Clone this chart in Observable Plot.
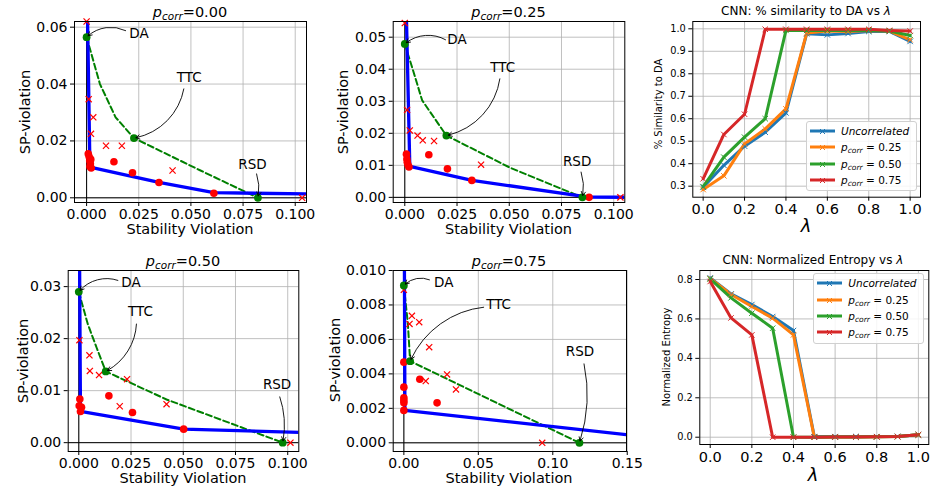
<!DOCTYPE html>
<html><head><meta charset="utf-8">
<script src="https://cdn.jsdelivr.net/npm/d3@7"></script>
<script src="https://cdn.jsdelivr.net/npm/@observablehq/plot@0.6"></script>
<style>
body{margin:0;background:#fff;font-family:"DejaVu Sans",sans-serif;}
#root{position:relative;width:930px;height:489px;overflow:hidden;}
#root svg.plot{position:absolute;left:0;top:0;}
.lbl{position:absolute;white-space:nowrap;line-height:1;color:#000;transform-origin:center center;}
.lbl sub{font-size:72%;vertical-align:-0.28em;line-height:0;}
.legend{position:absolute;border:1px solid #d0d0d0;border-radius:3px;background:rgba(255,255,255,0.85);font-size:10.5px;}
.legend .row{position:absolute;left:0;height:14px;display:flex;align-items:center;}
.legend .row span{position:absolute;left:34px;white-space:nowrap;}
.legend sub{font-size:72%;vertical-align:-0.28em;line-height:0;}
</style>
</head><body><div id="root"></div>
<script>
// ---------------- DATA ----------------
// p_corr = 0.00
const p00Frontier = [[0.0003,0.07],[0.0016,0.0108],[0.0347,0.0054],[0.061,0.0018],[0.12,0.0012]];
const p00Dots = [[0.0008,0.0155],[0.0012,0.0145],[0.0015,0.013],[0.0018,0.012],[0.0016,0.011],[0.002,0.0135],[0.0022,0.0105],[0.0131,0.0127],[0.022,0.0088],[0.0347,0.0054],[0.061,0.0016]];
const p00Crosses = [[0,0.062],[0.001,0.0347],[0.0032,0.0283],[0.0021,0.0225],[0.0093,0.0183],[0.0169,0.0183],[0.0412,0.0096],[0.1033,0]];
const p00Curve = [[0,0.0565],[0.0064,0.040],[0.0139,0.0283],[0.0227,0.021],[0.0546,0.0096],[0.0821,0]];
const p00Mech = [[0,0.0565],[0.0227,0.021],[0.0821,0]];
const p00Notes = [
  {label:"DA", tx:0.0251, ty:0.0577, ax:0.0187, ay:0.0588, bend:-35},
  {label:"TTC", tx:0.0492, ty:0.0422, ax:0.0466, ay:0.0383, bend:35},
  {label:"RSD", tx:0.0795, ty:0.0116, ax:0.0815, ay:0.0084, bend:15}];

// p_corr = 0.25
const p25Frontier = [[0.0003,0.07],[0.0024,0.0097],[0.0322,0.0053],[0.088,0.0001],[0.12,0]];
const p25Dots = [[0.0008,0.0135],[0.001,0.012],[0.0012,0.011],[0.0015,0.0102],[0.002,0.0095],[0.0115,0.0133],[0.0204,0.0089],[0.0321,0.0053],[0.0882,0]];
const p25Crosses = [[0,0.0544],[0.0011,0.0273],[0.0024,0.0209],[0.0061,0.0193],[0.0086,0.0178],[0.014,0.0176],[0.0365,0.0102],[0.1032,0]];
const p25Curve = [[0,0.0479],[0.0035,0.0406],[0.0083,0.0303],[0.0199,0.0193],[0.0506,0.0092],[0.085,0]];
const p25Mech = [[0,0.0479],[0.0199,0.0193],[0.085,0]];
const p25Notes = [
  {label:"DA", tx:0.025, ty:0.0492, ax:0.0195, ay:0.0492, bend:-35},
  {label:"TTC", tx:0.0469, ty:0.0406, ax:0.0455, ay:0.037, bend:35},
  {label:"RSD", tx:0.0825, ty:0.0113, ax:0.0844, ay:0.0079, bend:15}];

// p_corr = 0.50
const p50Frontier = [[0.0003,0.04],[0.0008,0.006],[0.0502,0.0026],[0.12,0.0018]];
const p50Dots = [[0.0005,0.0084],[0.0002,0.0071],[0.0013,0.0068],[0.0008,0.006],[0.0144,0.009],[0.0257,0.0058],[0.0502,0.0026]];
const p50Crosses = [[0.0003,0.0197],[0.0051,0.0168],[0.0053,0.0138],[0.0097,0.013],[0.0231,0.0122],[0.0196,0.007],[0.042,0.0074],[0.1013,0]];
const p50Curve = [[0,0.029],[0.0043,0.0228],[0.0085,0.0183],[0.0129,0.0137],[0.042,0.0083],[0.0976,0]];
const p50Mech = [[0,0.029],[0.0129,0.0137],[0.0976,0]];
const p50Notes = [
  {label:"DA", tx:0.025, ty:0.0308, ax:0.0187, ay:0.0312, bend:-35},
  {label:"TTC", tx:0.0295, ty:0.0251, ax:0.0276, ay:0.0228, bend:30},
  {label:"RSD", tx:0.0949, ty:0.0112, ax:0.0962, ay:0.0088, bend:15}];

// p_corr = 0.75
const p75Frontier = [[0.0003,0.012],[0.0007,0.00188],[0.16,0.00037]];
const p75Dots = [[0,0.00468],[0,0.00323],[0,0.00261],[0,0.00246],[0,0.00232],[0,0.00188],[0.0107,0.00369],[0.0223,0.00232]];
const p75Crosses = [[0,0.00888],[0.0054,0.00737],[0.0038,0.0069],[0.0103,0.007],[0.017,0.00555],[0.029,0.00397],[0.0147,0.00358],[0.035,0.0031],[0.0929,0]];
const p75Curve = [[0,0.00913],[0.0027,0.0069],[0.0042,0.00474],[0.1179,0]];
const p75Mech = [[0,0.00913],[0.0042,0.00474],[0.1179,0]];
const p75Notes = [
  {label:"DA", tx:0.0268, ty:0.00932, ax:0.0172, ay:0.00946, bend:-35},
  {label:"TTC", tx:0.0636, ty:0.0080, ax:0.0536, ay:0.00787, bend:-30},
  {label:"RSD", tx:0.1183, ty:0.00526, ax:0.121, ay:0.00458, bend:15}];

// lambda sweeps
const lambdas = [0,0.1,0.2,0.3,0.4,0.5,0.6,0.7,0.8,0.9,1.0];
const seriesNames = ["Uncorrelated","p_corr = 0.25","p_corr = 0.50","p_corr = 0.75"];
const simUncorr = [0.295,0.393,0.478,0.54,0.626,0.978,0.973,0.979,0.988,0.988,0.944];
const sim025   = [0.285,0.346,0.488,0.555,0.644,0.981,0.99,0.988,0.993,0.99,0.951];
const sim050   = [0.298,0.429,0.518,0.6,0.993,0.993,0.993,0.993,0.993,0.99,0.97];
const sim075   = [0.333,0.53,0.62,0.998,0.998,0.998,0.998,0.998,0.998,0.993,0.99];
const entUncorr = [0.808,0.727,0.673,0.612,0.541,0.003,0.003,0.003,0.003,0.004,0.013];
const ent025   = [0.805,0.724,0.663,0.604,0.519,0.0,0.001,0.001,0.002,0.003,0.012];
const ent050   = [0.803,0.707,0.629,0.553,0.0,0.0,0.001,0.001,0.002,0.003,0.012];
const ent075   = [0.79,0.605,0.519,0.0,0.0,0.0,0.001,0.001,0.002,0.003,0.012];

const frontierXTicks = [0,0.025,0.05,0.075,0.1];
const p75XTicks = [0,0.05,0.1,0.15];
const p00YTicks = [0,0.02,0.04,0.06];
const p25YTicks = [0,0.01,0.02,0.03,0.04,0.05];
const p50YTicks = [0,0.01,0.02,0.03];
const p75YTicks = [0,0.002,0.004,0.006,0.008,0.01];
const lamXTicks = [0,0.2,0.4,0.6,0.8,1.0];
const simYTicks = [0.3,0.4,0.5,0.6,0.7,0.8,0.9,1.0];
const entYTicks = [0,0.2,0.4,0.6,0.8];
const tab10 = ["#1f77b4","#ff7f0e","#2ca02c","#d62728"];

// ---------------- LAYOUT ----------------
const W = 930, H = 489;
const root = document.getElementById("root");
const svgStyle = {fontFamily:"DejaVu Sans", color:"black", background:"transparent", overflow:"visible"};
const X = d => d[0], Y = d => d[1];
const gridStyle = {stroke:"#b0b0b0", strokeOpacity:1, strokeWidth:0.8};

function frontierPanel(o){
  const [l,t,r,b] = o.frame;
  const marks = [
    Plot.gridX(o.xTicks, gridStyle),
    Plot.gridY(o.yTicks, gridStyle),
    Plot.ruleX([0], {stroke:"black", strokeWidth:1}),
    Plot.ruleY([0], {stroke:"black", strokeWidth:1}),
    Plot.line(o.curve, {x:X, y:Y, stroke:"green", strokeWidth:2, strokeDasharray:"6,3.2", clip:true}),
    Plot.line(o.frontier, {x:X, y:Y, stroke:"blue", strokeWidth:3.3, clip:true}),
    Plot.dot(o.dots, {x:X, y:Y, r:3.8, fill:"red", stroke:"none"}),
    Plot.dot(o.crosses, {x:X, y:Y, symbol:"times", r:2.9, stroke:"red", strokeWidth:1.2}),
    Plot.dot(o.mech, {x:X, y:Y, r:3.9, fill:"green", stroke:"none"}),
    ...o.notes.map((n,i) => Plot.arrow([n], {x1:"ax", y1:"ay", x2:d=>o.mech[i][0], y2:d=>o.mech[i][1], bend:n.bend, stroke:"black", strokeWidth:0.9, headLength:7, insetEnd:2})),
    Plot.text(o.notes, {x:"tx", y:"ty", text:"label", fontSize:13.5, fill:"black"}),
    Plot.frame({stroke:"black", strokeWidth:1}),
    Plot.axisX(o.xTicks, {tickFormat:d3.format(o.xFmt), tickSize:4, tickPadding:3, fontSize:14, label:null}),
    Plot.axisY(o.yTicks, {tickFormat:d3.format(o.yFmt), tickSize:4, tickPadding:3, fontSize:14, label:null})
  ];
  const svg = Plot.plot({width:W, height:H, marginLeft:l, marginTop:t, marginRight:W-r, marginBottom:H-b,
    style:svgStyle, x:{domain:o.xDomain}, y:{domain:o.yDomain}, marks});
  svg.classList.add("plot");
  root.appendChild(svg);
}

function lambdaPanel(o){
  const [l,t,r,b] = o.frame;
  const rows = [];
  o.series.forEach((vals,si) => vals.forEach((v,i) => rows.push({lam:lambdas[i], v, s:seriesNames[si]})));
  const svg = Plot.plot({width:W, height:H, marginLeft:l, marginTop:t, marginRight:W-r, marginBottom:H-b,
    style:svgStyle, x:{domain:o.xDomain}, y:{domain:o.yDomain},
    color:{domain:seriesNames, range:tab10},
    marks:[
      Plot.gridX(lamXTicks, gridStyle),
      Plot.gridY(o.yTicks, gridStyle),
      Plot.line(rows, {x:"lam", y:"v", z:"s", stroke:"s", strokeWidth:3}),
      Plot.dot(rows, {x:"lam", y:"v", stroke:"s", symbol:"times", r:2.6, strokeWidth:1}),
      Plot.frame({stroke:"black", strokeWidth:1}),
      Plot.axisX(lamXTicks, {tickFormat:d3.format(".1f"), tickSize:4, tickPadding:3, fontSize:14.5, label:null}),
      Plot.axisY(o.yTicks, {tickFormat:d3.format(".1f"), tickSize:4, tickPadding:3, fontSize:9.8, label:null})
    ]});
  svg.classList.add("plot");
  root.appendChild(svg);
}

function label(html, cx, cy, size, opts={}){
  const d = document.createElement("div");
  d.className = "lbl";
  d.innerHTML = html;
  d.style.fontSize = size + "px";
  d.style.left = cx + "px";
  d.style.top = cy + "px";
  d.style.transform = "translate(-50%,-50%)" + (opts.rotate ? " rotate(-90deg)" : "");
  root.appendChild(d);
}

function legend(box){
  const [l,t,r,b] = box;
  const d = document.createElement("div");
  d.className = "legend";
  d.style.left = l+"px"; d.style.top = t+"px";
  d.style.width = (r-l)+"px"; d.style.height = (b-t)+"px";
  const texts = ["<i>Uncorrelated</i>", ...seriesNames.slice(1).map(s => "<i>p</i><sub><i>corr</i></sub> = " + s.split("= ")[1])];
  texts.forEach((tx,i) => {
    const row = document.createElement("div");
    row.className = "row";
    row.style.top = (2 + i*16.4) + "px";
    row.style.width = "100%";
    row.innerHTML = `<svg width="30" height="14" style="position:absolute;left:2px;top:0"><line x1="1" y1="7" x2="26" y2="7" stroke="${tab10[i]}" stroke-width="3"/><path d="M11,5 L16,10 M16,5 L11,10" stroke="${tab10[i]}" stroke-width="1"/></svg><span>${tx}</span>`;
    d.appendChild(row);
  });
  root.appendChild(d);
}

frontierPanel({frame:[74,21,306,202], xDomain:[-0.0058,0.1054], yDomain:[-0.00165,0.062],
  xTicks:frontierXTicks, yTicks:p00YTicks, xFmt:".3f", yFmt:".2f",
  frontier:p00Frontier, dots:p00Dots, crosses:p00Crosses, curve:p00Curve, mech:p00Mech, notes:p00Notes});
frontierPanel({frame:[392.7,21,624.3,202], xDomain:[-0.00555,0.1053], yDomain:[-0.0016,0.0549],
  xTicks:frontierXTicks, yTicks:p25YTicks, xFmt:".3f", yFmt:".2f",
  frontier:p25Frontier, dots:p25Dots, crosses:p25Crosses, curve:p25Curve, mech:p25Mech, notes:p25Notes});
frontierPanel({frame:[67.7,270,298.3,451], xDomain:[-0.00507,0.1053], yDomain:[-0.0017,0.0331],
  xTicks:frontierXTicks, yTicks:p50YTicks, xFmt:".3f", yFmt:".2f",
  frontier:p50Frontier, dots:p50Dots, crosses:p50Crosses, curve:p50Curve, mech:p50Mech, notes:p50Notes});
frontierPanel({frame:[392.7,270,626,451], xDomain:[-0.00716,0.1495], yDomain:[-0.000505,0.0100],
  xTicks:p75XTicks, yTicks:p75YTicks, xFmt:".2f", yFmt:".3f",
  frontier:p75Frontier, dots:p75Dots, crosses:p75Crosses, curve:p75Curve, mech:p75Mech, notes:p75Notes});
lambdaPanel({frame:[692.3,21,920,196.7], xDomain:[-0.05,1.05], yDomain:[0.251,1.0325], yTicks:simYTicks,
  series:[simUncorr,sim025,sim050,sim075]});
lambdaPanel({frame:[699.3,270,928.3,444], xDomain:[-0.05,1.05], yDomain:[-0.037,0.8457], yTicks:entYTicks,
  series:[entUncorr,ent025,ent050,ent075]});

const pc = v => `<i>p</i><sub><i>corr</i></sub>=${v}`;
label(pc("0.00"), 190, 12, 14.5);
label(pc("0.25"), 508.5, 12, 14.5);
label(pc("0.50"), 183, 261, 14.5);
label(pc("0.75"), 509, 261, 14.5);
label("CNN: % similarity to DA vs <i>λ</i>", 806, 11, 12);
label("CNN: Normalized Entropy vs <i>λ</i>", 813, 260, 12);
label("Stability Violation", 190, 229, 14.5);
label("Stability Violation", 508.5, 229, 14.5);
label("Stability Violation", 183, 478, 14.5);
label("Stability Violation", 509, 478, 14.5);
label("SP-violation", 25, 112, 14.5, {rotate:true});
label("SP-violation", 343, 112, 14.5, {rotate:true});
label("SP-violation", 23, 361, 14.5, {rotate:true});
label("SP-violation", 335, 360, 14.5, {rotate:true});
label("% Similarity to DA", 658.5, 104, 10, {rotate:true});
label("Normalized Entropy", 666.5, 357, 10, {rotate:true});
label("<i>λ</i>", 806, 226, 18);
label("<i>λ</i>", 813, 475, 18);
legend([806,121,915.3,188.5]);
legend([813.3,273.3,922.3,342]);
</script></body></html>
